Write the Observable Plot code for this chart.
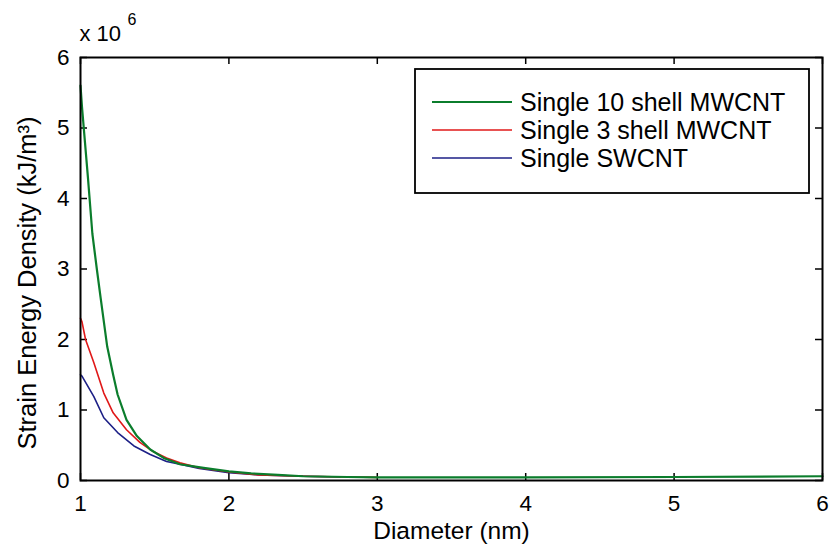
<!DOCTYPE html>
<html>
<head>
<meta charset="utf-8">
<script src="https://cdn.jsdelivr.net/npm/d3@7"></script>
<script src="https://cdn.jsdelivr.net/npm/@observablehq/plot@0.6"></script>
<style>
  html, body { margin: 0; padding: 0; background: #ffffff; }
  #chart { width: 830px; height: 553px; }
  svg { font-family: "Liberation Sans", Arial, sans-serif; }
</style>
</head>
<body>
<div id="chart"></div>
<script>
// ---- data (values in units of 1e6 kJ/m^3) ----
const seriesNames = ["Single 10 shell MWCNT", "Single 3 shell MWCNT", "Single SWCNT"];
const seriesColors = ["#0b7d2c", "#e01818", "#1c1f86"];

const tenShellD = [1.0, 1.01, 1.03, 1.05, 1.08, 1.11, 1.135, 1.18, 1.22, 1.25, 1.31, 1.38, 1.47, 1.56, 1.67, 1.83, 2.0, 2.15, 2.33, 2.5, 2.8, 3.0, 4.0, 5.0, 6.0];
const tenShellE = [5.6, 5.3, 4.8, 4.3, 3.5, 3.0, 2.6, 1.9, 1.5, 1.22, 0.86, 0.63, 0.44, 0.32, 0.23, 0.18, 0.13, 0.10, 0.08, 0.06, 0.05, 0.045, 0.045, 0.05, 0.06];

const threeShellD = [1.0, 1.01, 1.034, 1.09, 1.157, 1.22, 1.31, 1.40, 1.49, 1.58, 1.67, 1.8, 2.0, 2.2, 2.5, 2.8, 3.0];
const threeShellE = [2.3, 2.25, 2.0, 1.67, 1.24, 0.96, 0.72, 0.54, 0.41, 0.32, 0.25, 0.18, 0.12, 0.08, 0.06, 0.05, 0.045];

const swcntD = [1.0, 1.01, 1.09, 1.157, 1.25, 1.36, 1.47, 1.58, 1.67, 1.8, 2.0, 2.2, 2.5, 2.75];
const swcntE = [1.5, 1.48, 1.19, 0.89, 0.68, 0.49, 0.37, 0.27, 0.23, 0.17, 0.11, 0.08, 0.06, 0.05];

const xTicks = [1, 2, 3, 4, 5, 6];
const yTicks = [0, 1, 2, 3, 4, 5, 6];
const scaleExponent = "6";

// ---- build table ----
const toRows = (ds, es, name) => ds.map((d, i) => ({d, e: es[i] * 1e6, name}));
const rows = [
  ...toRows(swcntD, swcntE, seriesNames[2]),
  ...toRows(threeShellD, threeShellE, seriesNames[1]),
  ...toRows(tenShellD, tenShellE, seriesNames[0])
];

const W = 830, H = 553;
const mT = 57, mB = 73, mL = 80, mR = 8;
const innerH = H - mT - mB, innerW = W - mL - mR;
const tk = 7;

const svg = Plot.plot({
  width: W, height: H,
  marginTop: mT, marginBottom: mB, marginLeft: mL, marginRight: mR,
  style: {background: "#ffffff", fontFamily: "Liberation Sans, Arial, sans-serif", color: "#000"},
  x: {domain: [1, 6]},
  y: {domain: [0, 6e6]},
  color: {domain: seriesNames, range: seriesColors},
  marks: [
    Plot.axisX({ticks: xTicks, tickSize: 0, tickPadding: 15, fontSize: 22.5, label: null, tickFormat: d => String(d)}),
    Plot.axisY({ticks: yTicks.map(v => v * 1e6), tickSize: 0, tickPadding: 11, fontSize: 22.5, label: null, tickFormat: d => String(d / 1e6)}),
    // inward tick marks
    Plot.ruleX(xTicks, {insetTop: innerH - tk, stroke: "#000", strokeWidth: 1.5}),
    Plot.ruleX(xTicks, {insetBottom: innerH - tk, stroke: "#000", strokeWidth: 1.5}),
    Plot.ruleY(yTicks.map(v => v * 1e6), {insetRight: innerW - tk, stroke: "#000", strokeWidth: 1.5}),
    Plot.ruleY(yTicks.map(v => v * 1e6), {insetLeft: innerW - tk, stroke: "#000", strokeWidth: 1.5}),
    Plot.line(rows, {x: "d", y: "e", z: "name", stroke: "name", strokeWidth: d => d.name === seriesNames[0] ? 2.2 : 1.6, curve: "linear"}),
    Plot.frame({stroke: "#000", strokeWidth: 2}),
    Plot.text(["Diameter (nm)"], {frameAnchor: "bottom", dy: 51, lineAnchor: "middle", fontSize: 24.5, fill: "#000"}),
    Plot.text(["Strain Energy Density (kJ/m³)"], {frameAnchor: "left", textAnchor: "middle", rotate: -90, dx: -53, dy: 14, lineAnchor: "middle", fontSize: 25.5, fill: "#000"}),
    Plot.text(["x 10"], {frameAnchor: "top-left", textAnchor: "start", dx: -1, dy: -24, lineAnchor: "middle", fontSize: 22, fill: "#000"}),
    Plot.text([scaleExponent], {frameAnchor: "top-left", textAnchor: "start", dx: 47, dy: -38, lineAnchor: "middle", fontSize: 16, fill: "#000"})
  ]
});

// ---- legend ----
const g = d3.select(svg).append("g").attr("text-anchor", "start");
g.append("rect").attr("x", 415).attr("y", 69).attr("width", 394).attr("height", 124)
  .attr("fill", "#fff").attr("stroke", "#000").attr("stroke-width", 1.8);
seriesNames.forEach((name, i) => {
  const y = 102 + i * 28;
  g.append("line").attr("x1", 432).attr("x2", 512).attr("y1", y).attr("y2", y)
    .attr("stroke", seriesColors[i]).attr("stroke-width", i === 0 ? 2.2 : 1.6);
  g.append("text").attr("x", 520).attr("y", y + 8.5).attr("font-size", 25)
    .attr("text-anchor", "start").attr("fill", "#000").text(name);
});

document.getElementById("chart").appendChild(svg);
</script>
</body>
</html>
